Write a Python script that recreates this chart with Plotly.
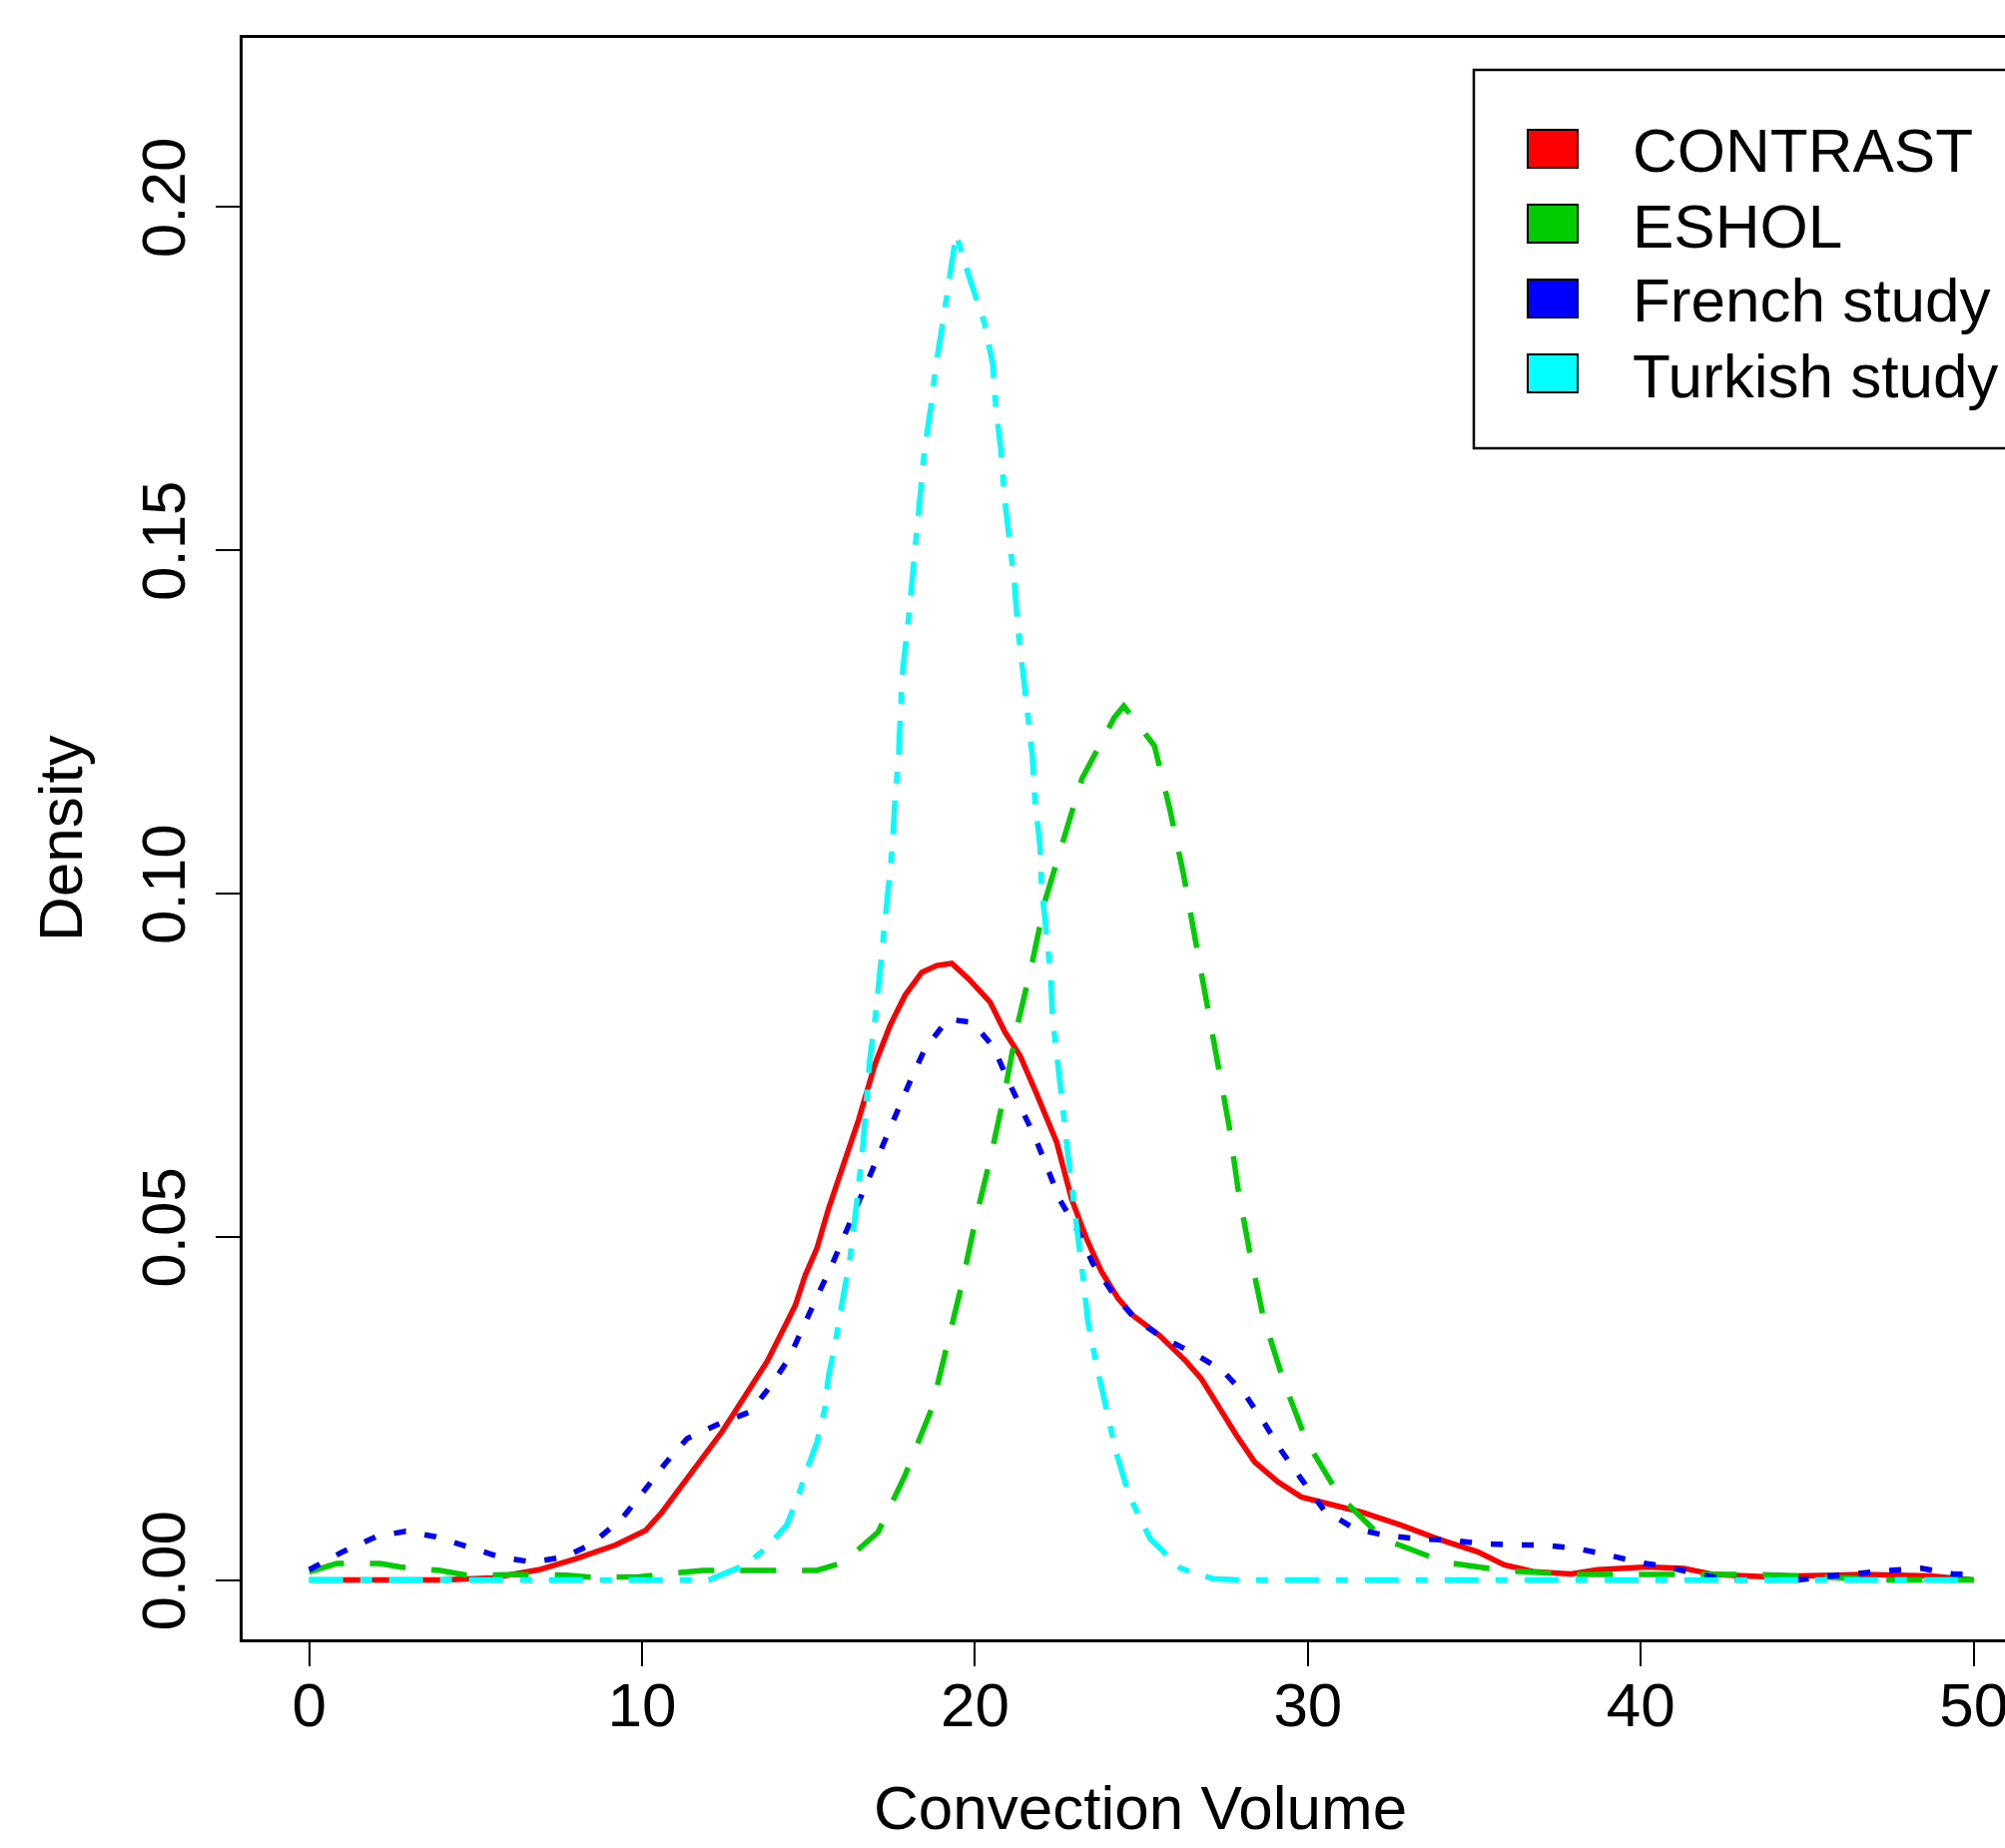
import plotly.graph_objects as go

# ---------------- data ----------------
series_names = ["CONTRAST", "ESHOL", "French study", "Turkish study"]

contrast_x = [0, 2, 4, 5.5, 6.9, 8.0, 9.2, 10.1, 10.6, 11.2, 11.8, 12.4, 12.85, 13.3, 13.75,
              14.2, 14.6, 14.9, 15.25, 15.6, 16.05, 16.5, 17.0, 17.45, 17.9, 18.4, 18.85,
              19.3, 19.8, 20.45, 20.9, 21.35, 21.85, 22.45, 22.9, 23.35, 23.8, 24.3, 24.75,
              25.55, 26.35, 26.8, 27.3, 27.85, 28.4, 29.1, 29.8, 30.7, 31.6, 32.8, 33.9,
              35.1, 35.9, 36.8, 37.9, 38.7, 40.2, 41.3, 42.2, 43.7, 45.2, 46.7, 48.7, 50]
contrast_y = [0, 0, 0, 0.0003, 0.0015, 0.0031, 0.0051, 0.0072, 0.0099, 0.0138, 0.0177,
              0.0216, 0.025, 0.0284, 0.0318, 0.0361, 0.04, 0.0444, 0.0483, 0.0541, 0.0604,
              0.067, 0.0752, 0.0808, 0.0852, 0.0885, 0.0895, 0.0898, 0.0876, 0.0842, 0.0798,
              0.0764, 0.0708, 0.0638, 0.0555, 0.0497, 0.0449, 0.041, 0.0385, 0.0356, 0.0318,
              0.0293, 0.0254, 0.0211, 0.0172, 0.0143, 0.0121, 0.0111, 0.0099, 0.008, 0.006,
              0.0041, 0.0022, 0.0012, 0.0009, 0.0015, 0.0019, 0.0017, 0.0008, 0.0005, 0.0007,
              0.0008, 0.0006, 0.0]

eshol_x = [0, 0.83, 2.13, 2.73, 3.93, 4.73, 6.13, 7.73, 8.53, 9.93, 11.81, 13.76, 15.25,
           16.06, 17.09, 17.9, 18.7, 19.16, 19.62, 20.02, 20.48, 20.91, 21.25, 21.72, 22.12,
           22.63, 23.21, 24.18, 24.47, 25.39, 25.85, 26.25, 26.6, 26.94, 27.28, 27.63, 27.9,
           28.25, 28.65, 29.28, 29.97, 30.94, 32.26, 34.1, 35.88, 37.94, 39.82, 41.72, 43.62,
           45.22, 47.5, 49.2, 50]
eshol_y = [0.0012, 0.0024, 0.0024, 0.0019, 0.0014, 0.0007, 0.0008, 0.0007, 0.0004, 0.0005,
           0.0014, 0.0014, 0.0014, 0.0026, 0.007, 0.0153, 0.025, 0.0342, 0.0434, 0.0526,
           0.0618, 0.0715, 0.0803, 0.09, 0.0992, 0.1074, 0.1167, 0.1256, 0.1273, 0.1215,
           0.1123, 0.1031, 0.0939, 0.0846, 0.0752, 0.0662, 0.057, 0.0478, 0.0385, 0.0288,
           0.0201, 0.0123, 0.006, 0.0026, 0.0014, 0.0008, 0.0008, 0.0008, 0.0008, 0.0005,
           0.0, 0.0, 0.0]

french_x = [0, 1.0, 2.0, 2.9, 3.8, 4.8, 5.7, 6.7, 7.7, 8.5, 9.4, 10.03, 10.7, 11.35, 12.33,
            13.25, 13.88, 14.4, 14.8, 15.25, 15.72, 16.12, 16.52, 16.92, 17.3, 17.7, 18.1,
            18.5, 19.19, 19.93, 20.56, 20.97, 21.43, 21.82, 22.22, 22.56, 23.08, 23.54, 24.11,
            24.8, 25.6, 26.58, 27.44, 28.13, 28.7, 29.22, 29.79, 30.48, 31.39, 32.32, 33.29,
            34.27, 35.24, 36.15, 37.1, 38.07, 38.97, 39.92, 40.82, 41.77, 42.72, 43.82, 44.72,
            45.57, 46.52, 47.47, 48.42, 49.37, 50]
french_y = [0.0015, 0.0041, 0.0063, 0.0071, 0.0063, 0.0048, 0.0034, 0.0026, 0.0034, 0.0053,
            0.009, 0.0128, 0.017, 0.0206, 0.0228, 0.0245, 0.0284, 0.0322, 0.0366, 0.0412,
            0.0461, 0.0507, 0.055, 0.0594, 0.0642, 0.0686, 0.0732, 0.0774, 0.0817, 0.0812,
            0.0776, 0.073, 0.0684, 0.0643, 0.0594, 0.0553, 0.0509, 0.0461, 0.042, 0.0381,
            0.0354, 0.033, 0.0305, 0.0269, 0.0228, 0.0187, 0.0148, 0.0102, 0.0075, 0.0065,
            0.006, 0.0058, 0.0053, 0.0051, 0.0051, 0.0046, 0.0037, 0.0026, 0.0019, 0.0008,
            0.0, 0.0, 0.0, 0.0005, 0.001, 0.0014, 0.0017, 0.0009, 0.0008]

turkish_x = [0, 5, 10, 12.0, 13.1, 13.76, 14.34, 14.68, 15.03, 15.25, 15.49, 15.6, 15.77,
             15.89, 16.06, 16.23, 16.35, 16.46, 16.63, 16.84, 17.01, 17.13, 17.24, 17.38,
             17.53, 17.59, 17.7, 17.76, 17.83, 17.98, 18.11, 18.22, 18.35, 18.48, 18.66,
             18.83, 19.03, 19.23, 19.43, 19.83, 20.28, 20.53, 20.63, 20.78, 20.88, 21.03,
             21.18, 21.28, 21.43, 21.58, 21.72, 21.8, 21.95, 22.0, 22.12, 22.27, 22.33, 22.5,
             22.63, 22.77, 22.91, 23.08, 23.25, 23.39, 23.65, 23.97, 24.23, 24.63, 25.26,
             26.18, 27.15, 28, 35, 42, 50]
turkish_y = [0, 0, 0, 0.0, 0.0022, 0.0048, 0.008, 0.0121, 0.0172, 0.0201, 0.025, 0.0298,
             0.0337, 0.0376, 0.0419, 0.0463, 0.0507, 0.0555, 0.0633, 0.0759, 0.0822, 0.0883,
             0.0944, 0.1009, 0.1074, 0.1135, 0.1196, 0.1264, 0.1327, 0.139, 0.1453, 0.1516,
             0.1579, 0.1645, 0.1705, 0.1771, 0.1831, 0.1897, 0.196, 0.1897, 0.1831, 0.1771,
             0.1705, 0.1645, 0.1579, 0.1516, 0.1453, 0.139, 0.1327, 0.1264, 0.1201, 0.1135,
             0.107, 0.1009, 0.0944, 0.0883, 0.0817, 0.0754, 0.0691, 0.0628, 0.0565, 0.0504,
             0.0439, 0.0376, 0.0313, 0.0247, 0.0187, 0.0123, 0.006, 0.0017, 0.0002, 0, 0, 0, 0]

x_ticks = [0, 10, 20, 30, 40, 50]
y_ticks = [0.00, 0.05, 0.10, 0.15, 0.20]
x_title = "Convection Volume"
y_title = "Density"

# ---------------- styling ----------------
colors = ["#FF0000", "#00CD00", "#0000FF", "#00FFFF"]
dashes = ["solid", "36px,26px", "12px,19px", "34px,17px,12px,17px"]
FONT = "Liberation Sans, Arial, sans-serif"
FS = 62
W, H = 2008, 1851
ML, MT, MB, MR = 243, 38, 209, 0
PW, PH = W - ML - MR, H - MT - MB

def px(xp):
    return (xp - ML) / PW

def py(yp):
    return (H - MB - yp) / PH

fig = go.Figure()
all_x = [contrast_x, eshol_x, french_x, turkish_x]
all_y = [contrast_y, eshol_y, french_y, turkish_y]
for name, xs, ys, c, d in zip(series_names, all_x, all_y, colors, dashes):
    fig.add_trace(go.Scatter(x=xs, y=ys, mode="lines", name=name,
                             line=dict(color=c, width=5.5, dash=d),
                             showlegend=False, hoverinfo="skip"))

# manual legend (filled squares, R style)
shapes = [dict(type="rect", xref="paper", yref="paper",
               x0=px(1476), x1=px(2030), y0=py(449), y1=py(70),
               line=dict(color="black", width=2.5), fillcolor="white", layer="above")]
annotations = []
entry_y = [149, 224, 299, 374]
for name, c, ey in zip(series_names, colors, entry_y):
    shapes.append(dict(type="rect", xref="paper", yref="paper",
                       x0=px(1530), x1=px(1580), y0=py(ey + 19), y1=py(ey - 19),
                       line=dict(color="black", width=2), fillcolor=c, layer="above"))
    annotations.append(dict(text=name, xref="paper", yref="paper", x=px(1633), y=py(ey + 2),
                            xanchor="left", yanchor="middle", showarrow=False,
                            font=dict(family=FONT, size=FS, color="black")))

# axis titles
annotations.append(dict(text=x_title, xref="paper", yref="paper", x=px(1142), y=py(1811),
                        xanchor="center", yanchor="middle", showarrow=False,
                        font=dict(family=FONT, size=FS, color="black")))
annotations.append(dict(text=y_title, xref="paper", yref="paper", x=px(60), y=0.5,
                        xanchor="center", yanchor="middle", showarrow=False, textangle=-90,
                        font=dict(family=FONT, size=FS, color="black")))

fig.update_layout(
    width=W, height=H,
    margin=dict(l=ML, r=MR, t=MT, b=MB, pad=0, autoexpand=False),
    paper_bgcolor="white", plot_bgcolor="white",
    font=dict(family=FONT, size=FS, color="black"),
    shapes=shapes, annotations=annotations,
    showlegend=False,
    xaxis=dict(range=[-2, 50.94], tickvals=x_ticks, ticktext=[str(v) for v in x_ticks],
               showgrid=False, zeroline=False, showline=True, linecolor="black",
               linewidth=2.5, mirror=True, ticks="outside", ticklen=24, tickwidth=2,
               tickcolor="black", tickfont=dict(family=FONT, size=FS), automargin=False,
               ticklabelstandoff=-14, ticklabeloverflow="allow"),
    yaxis=dict(range=[-0.00864, 0.2246], tickvals=y_ticks,
               ticktext=["%.2f" % v for v in y_ticks], automargin=False,
               showgrid=False, zeroline=False, showline=True, linecolor="black",
               linewidth=2.5, mirror=False, ticks="outside", ticklen=24, tickwidth=2,
               tickcolor="black", tickangle=-90, tickfont=dict(family=FONT, size=FS),
               ticklabelstandoff=6),
)

fig.write_html("out.html", config={"displayModeBar": False},
               post_script="document.body.style.margin='0';document.body.style.overflow='hidden';")
